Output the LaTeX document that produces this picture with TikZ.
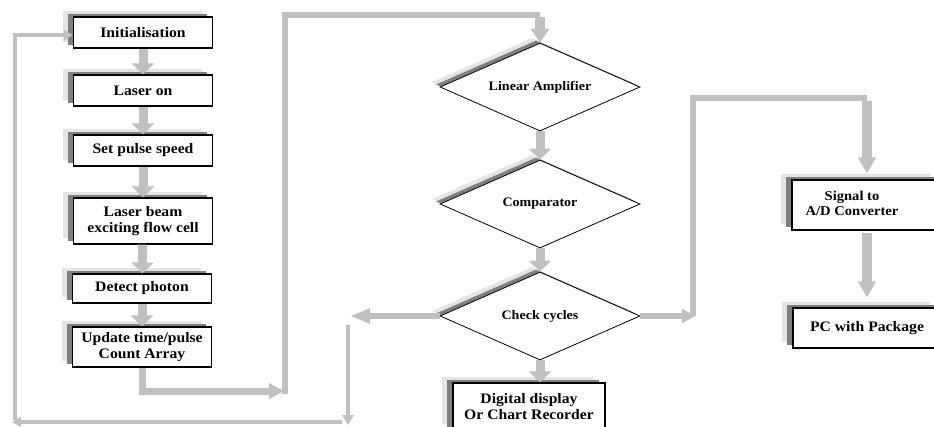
\documentclass[tikz,border=0pt]{standalone}
\usepackage{fontspec}
\setmainfont{Liberation Serif}[FakeStretch=1.08]
\usetikzlibrary{arrows.meta,shapes.geometric,shadows,calc}
\definecolor{arrgray}{HTML}{C0C0C0}
\definecolor{shlight}{HTML}{E4E4E4}
\definecolor{shdark}{HTML}{7F7F7F}
\begin{document}
\begin{tikzpicture}[x=1pt,y=-1pt,
 box/.style={draw=black, line width=1.1pt, fill=white, rectangle, minimum width=139pt,
   inner sep=0pt, font=\fontsize{14.5}{16}\selectfont\bfseries, align=center,
   general shadow={fill=shlight, shadow xshift=-11pt, shadow yshift=6pt},
   general shadow={fill=shdark, shadow xshift=-6pt, shadow yshift=3pt}},
 dia/.style={diamond, draw=black, line width=0.8pt, fill=white, minimum width=200pt,
   minimum height=88pt, inner sep=0pt, aspect=2.27, font=\fontsize{13}{15}\selectfont\bfseries,
   general shadow={fill=shlight, shadow xshift=-8pt, shadow yshift=5pt},
   general shadow={fill=shdark, shadow xshift=-4pt, shadow yshift=2.5pt}},
 bigarr/.style={draw=arrgray, line width=9pt, -{Triangle[width=22pt,length=11pt]}},
 conn/.style={draw=arrgray, line width=5.5pt},
 connarr/.style={conn, -{Triangle[width=15pt,length=14pt]}},
]
\useasboundingbox (0,0) rectangle (934,426);
\clip (0,0) rectangle (934,426);

% left column
\node[box, minimum height=31pt] (init) at (143,32.5) {Initialisation};
\node[box, minimum height=31pt] (laser) at (143,90.5) {Laser on};
\node[box, minimum height=31pt] (speed) at (143,150.5) {Set pulse speed};
\node[box, minimum height=46pt] (beam) at (143,221) {Laser beam\\exciting flow cell};
\node[box, minimum height=29pt] (detect) at (142,288.5) {Detect photon};
\node[box, minimum height=40pt] (update) at (142,347) {Update time/pulse\\Count Array};

% diamonds
\node[dia] (lin) at (540,87) {Linear Amplifier};
\node[dia] (comp) at (540,204) {Comparator};
\node[dia] (check) at (540,316) {Check cycles};

% other boxes
\node[box, minimum width=152pt, minimum height=47pt] (disp) at (529,406.5) {Digital display\\Or Chart Recorder};
\node[box, minimum width=150pt, minimum height=50pt, font=\fontsize{13.5}{15.5}\selectfont\bfseries] (sig) at (867,205)
  {\begin{tabular}{@{}c@{}}Signal to\\A/D Converter\end{tabular}\hspace*{30pt}};
\node[box, minimum width=148pt, minimum height=40pt] (pc) at (867,328) {PC with Package};

% left column arrows
\draw[bigarr] (init) -- (laser);
\draw[bigarr] (laser) -- (speed);
\draw[bigarr] (speed) -- (beam);
\draw[bigarr] (beam) -- (detect);
\draw[bigarr] (detect) -- (update);

% update -> linear amplifier
\coordinate (u1) at (284,391);
\coordinate (u0) at (285,393.5);
\coordinate (u2) at (285,15);
\coordinate (u3) at (540,15);
\coordinate (u4) at (540,17);
\draw[conn, line width=7pt, -{Triangle[width=15pt,length=15pt]}] (update.south) |- (u1);
\draw[conn] (u0) -- (u2) -- (u3);
\draw[bigarr, line width=10pt, -{Triangle[width=18pt,length=14pt]}] (u4) -- (lin.north);

% diamond chain
\draw[bigarr] (lin) -- (comp);
\draw[bigarr] (comp) -- (check);
\draw[bigarr] (check.south) -- (check.south |- disp.north);

% feedback loop on the left
\coordinate (l1) at (350,316);
\coordinate (l2) at (348,325);
\coordinate (l3) at (348,425);
\coordinate (l4) at (342,422);
\coordinate (l5) at (12,422);
\coordinate (l6) at (15,420);
\coordinate (l7) at (15,35);
\draw[connarr, -{Triangle[width=14pt,length=20pt]}] (check.west) -- (l1);
\draw[conn, line width=4.5pt, -{Triangle[width=11pt,length=10pt]}] (l2) -- (l3);
\draw[conn, line width=4.5pt, -{Triangle[width=10pt,length=9pt]}] (l4) -- (l5);
\draw[conn, line width=4.5pt, -{Triangle[width=10pt,length=9pt]}] (l6) -- (l7) -- (init.west |- l7);

% right branch
\coordinate (r1) at (695,316);
\coordinate (r2) at (693,316);
\coordinate (r3) at (693,98);
\coordinate (r4) at (867,98);
\coordinate (r5) at (867,101);
\draw[connarr, line width=6pt, -{Triangle[width=14pt,length=13pt]}] (check.east) -- (r1);
\draw[conn, line width=6.5pt] (r2) -- (r3) -- (r4);
\draw[bigarr, line width=10pt, -{Triangle[width=17pt,length=16pt]}, shorten >=6pt] (r5) -- (sig);
\draw[bigarr, line width=10pt, -{Triangle[width=17pt,length=16pt]}, shorten >=10pt, shorten <=2pt] (sig) -- (pc);
\end{tikzpicture}
\end{document}
